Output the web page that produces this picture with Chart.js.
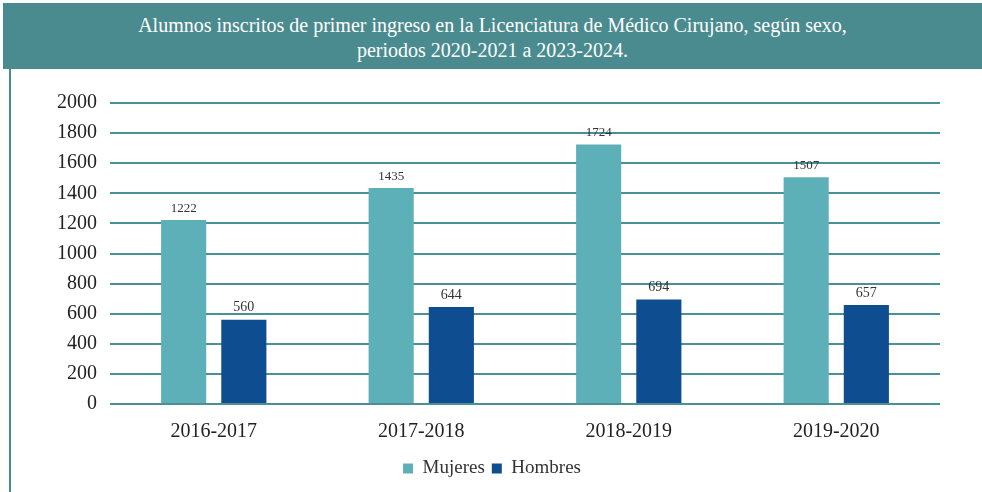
<!DOCTYPE html>
<html>
<head>
<meta charset="utf-8">
<script src="https://cdn.jsdelivr.net/npm/chart.js@4/dist/chart.umd.min.js"></script>
<style>
  body { margin: 0; background: #fff; width: 982px; height: 492px; overflow: hidden; position: relative; }
  #titulo {
    position: absolute; left: 3px; top: 3px; width: 979px; height: 66px;
    background: #4a8b90; color: #fff; text-align: center;
    font-family: "Liberation Serif", serif; font-size: 20px; line-height: 25px;
    padding-top: 10px; box-sizing: border-box;
  }
  #borde { position: absolute; left: 9px; top: 69px; width: 2px; height: 423px; background: #4a8b90; }
  #caja { position: absolute; left: 12px; top: 72px; width: 970px; height: 420px; }
</style>
</head>
<body>
<div id="titulo">Alumnos inscritos de primer ingreso en la Licenciatura de Médico Cirujano, según sexo,<br>periodos 2020-2021 a 2023-2024.</div>
<div id="borde"></div>
<div id="caja"><canvas id="chart"></canvas></div>
<script>
var periodos = ["2016-2017", "2017-2018", "2018-2019", "2019-2020"];
var mujeres = [1222, 1435, 1724, 1507];
var hombres = [560, 644, 694, 657];

Chart.defaults.font.family = '"Liberation Serif", serif';

// etiquetas encima de cada barra
const etiquetas = {
    id: 'etiquetas',
    afterDatasetsDraw(chart) {
        const ctx = chart.ctx;
        ctx.save();
        ctx.fillStyle = '#333';
        ctx.textAlign = 'center';
        ctx.textBaseline = 'bottom';
        chart.data.datasets.forEach(function (ds, i) {
            const meta = chart.getDatasetMeta(i);
            ctx.font = (i == 0 ? '13px' : '14px') + ' "Liberation Serif", serif';
            meta.data.forEach(function (bar, j) {
                ctx.fillText(ds.data[j], bar.x, bar.y - 5);
            });
        });
        ctx.restore();
    }
};

const ctx = document.getElementById('chart').getContext('2d');
const chart = new Chart(ctx, {
    type: 'bar',
    data: {
        labels: periodos,
        datasets: [{
            label: 'Mujeres',
            data: mujeres,
            backgroundColor: '#5eb0b8'
        }, {
            label: 'Hombres',
            data: hombres,
            backgroundColor: '#0e4d8f'
        }]
    },
    options: {
        responsive: true,
        maintainAspectRatio: false,
        animation: false,
        categoryPercentage: 0.58,
        barPercentage: 0.75,
        layout: { padding: { top: 31, right: 42, left: 32, bottom: 4 } },
        plugins: {
            title: { display: false },
            tooltip: { enabled: false },
            legend: {
                position: 'bottom',
                labels: {
                    boxWidth: 10, boxHeight: 10, padding: 7,
                    color: '#333',
                    font: { family: '"Liberation Serif", serif', size: 19 }
                }
            }
        },
        scales: {
            x: {
                grid: { display: false },
                border: { display: false },
                ticks: { color: '#222', padding: 8, font: { size: 20 } }
            },
            y: {
                min: 0, max: 2000,
                border: { display: false },
                grid: { color: '#4a9096', lineWidth: 2, drawTicks: false },
                ticks: {
                    stepSize: 200, color: '#222', padding: 13, font: { size: 20 },
                    callback: function (v) { return String(v); }
                }
            }
        }
    },
    plugins: [etiquetas]
});
</script>
</body>
</html>
